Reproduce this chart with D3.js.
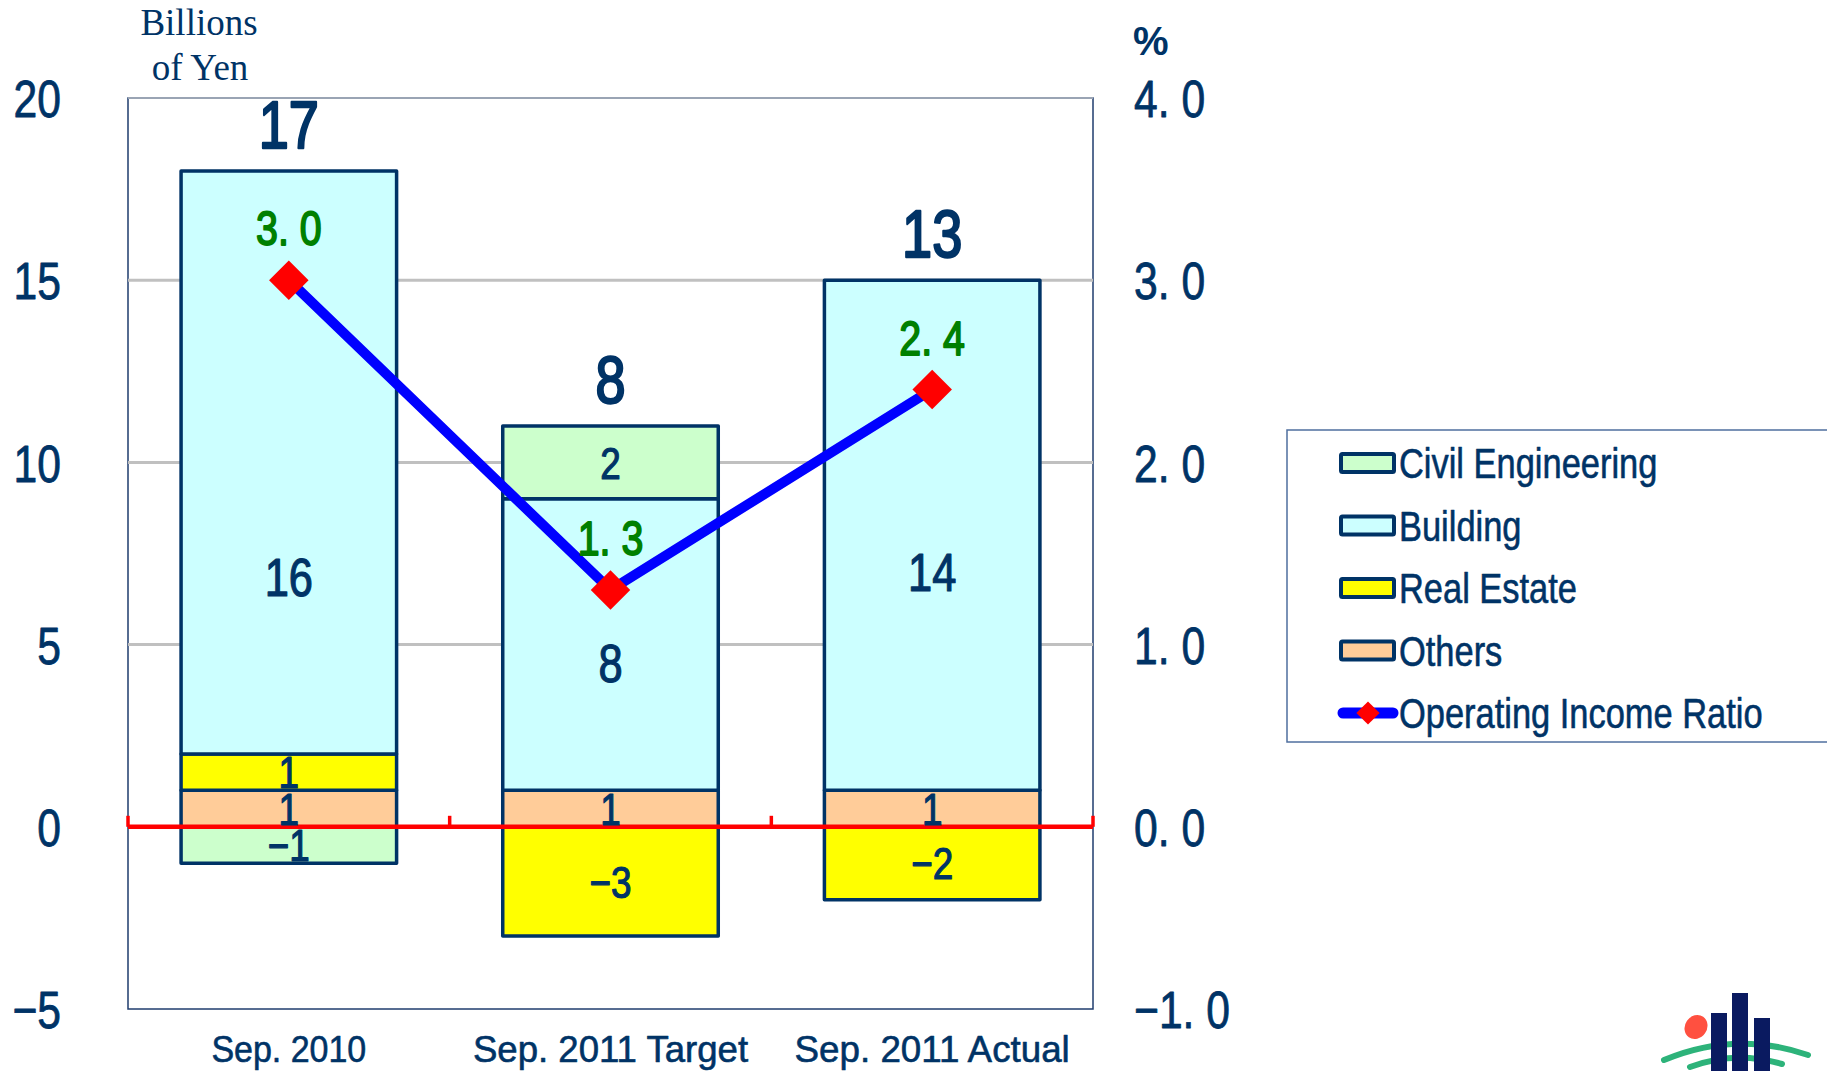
<!DOCTYPE html>
<html>
<head>
<meta charset="utf-8">
<script src="https://cdn.jsdelivr.net/npm/d3@7"></script>
<style>
  html, body { margin: 0; padding: 0; background: #ffffff; }
  svg { display: block; }
</style>
</head>
<body>
<svg id="chart" width="1827" height="1071"></svg>
<script>
// ---------------- data ----------------
const categories = ["Sep. 2010", "Sep. 2011 Target", "Sep. 2011 Actual"];
const civilEngineering = [-1, 2, 0];
const building = [16, 8, 14];
const realEstate = [1, -3, -2];
const others = [1, 1, 1];
const totals = [17, 8, 13];
const incomeRatio = [3.0, 1.3, 2.4];
const buildingLabelAt = [6.85, 4.5, 7.0];   // value (billions of yen) where the Building label sits
const leftTicks = [-5, 0, 5, 10, 15, 20];
const rightTicks = [-1, 0, 1, 2, 3, 4];
const gridTicks = [5, 10, 15];
const legendNames = ["Civil Engineering", "Building", "Real Estate", "Others", "Operating Income Ratio"];

// ---------------- styles ----------------
const NAVY = "#003366";
const colors = {
  "Civil Engineering": "#CCFFCC",
  "Building": "#CCFFFF",
  "Real Estate": "#FFFF00",
  "Others": "#FFCC99"
};
const SANS = '"Liberation Sans", Arial, sans-serif';
const SQUEEZE = 0.82;   // emulate a narrow gothic face
// horizontal compression about each text's own anchor point
function squeeze(sel, f = SQUEEZE) {
  sel.each(function () {
    const ax = +(this.getAttribute("x") || 0);
    this.setAttribute("transform", `translate(${ax},0) scale(${f},1) translate(${-ax},0)`);
  });
}
function heavy(sel, color, w) {
  sel.attr("stroke", color).attr("stroke-width", w).attr("stroke-linejoin", "round").attr("paint-order", "stroke");
}

const svg = d3.select("#chart");
const plot = { left: 128, right: 1093, top: 98, bottom: 1009 };

const rows = categories.map((c, i) => ({
  cat: c,
  "Others": others[i],
  "Real Estate": realEstate[i],
  "Building": building[i],
  "Civil Engineering": civilEngineering[i]
}));
const stackKeys = ["Others", "Real Estate", "Building", "Civil Engineering"];
const stacked = d3.stack().keys(stackKeys).offset(d3.stackOffsetDiverging)(rows);

const x = d3.scaleBand().domain(categories).range([plot.left, plot.right])
  .paddingInner(0.33).paddingOuter(0.165);
const xCat = d3.scaleBand().domain(categories).range([plot.left, plot.right]).padding(0);
const cx = c => x(c) + x.bandwidth() / 2;
const yL = d3.scaleLinear().domain([-5, 20]).range([plot.bottom, plot.top]);
const yR = d3.scaleLinear().domain([-1, 4]).range([plot.bottom, plot.top]);

// frame
svg.append("rect")
  .attr("x", plot.left).attr("y", plot.top)
  .attr("width", plot.right - plot.left).attr("height", plot.bottom - plot.top)
  .attr("fill", "none").attr("stroke", "#1f3d6e").attr("stroke-width", 1.5);
svg.append("line")
  .attr("x1", plot.left).attr("x2", plot.right)
  .attr("y1", yL(20)).attr("y2", yL(20))
  .attr("stroke", "#9aa4b4").attr("stroke-width", 2);

// gridlines
svg.append("g").selectAll("line").data(gridTicks).join("line")
  .attr("x1", plot.left).attr("x2", plot.right)
  .attr("y1", d => yL(d)).attr("y2", d => yL(d))
  .attr("stroke", "#C0C0C0").attr("stroke-width", 3);

// axes
const fmtL = d3.format("d");
const axL = svg.append("g").attr("transform", `translate(${plot.left},0)`)
  .call(d3.axisLeft(yL).tickValues(leftTicks).tickSize(0).tickPadding(67).tickFormat(fmtL));
axL.select(".domain").remove();
axL.selectAll("text").attr("font-family", SANS).attr("font-size", 52).attr("fill", NAVY)
  .attr("dy", "0.36em").call(heavy, NAVY, 0.8).call(squeeze);

const fmtR = d => d3.format(".1f")(d).replace(".", ". ");
const axR = svg.append("g").attr("transform", `translate(${plot.right},0)`)
  .call(d3.axisRight(yR).tickValues(rightTicks).tickSize(0).tickPadding(41).tickFormat(fmtR));
axR.select(".domain").remove();
axR.selectAll("text").attr("font-family", SANS).attr("font-size", 52).attr("fill", NAVY)
  .attr("dy", "0.36em").style("white-space", "pre").call(heavy, NAVY, 0.8).call(squeeze);

// x labels (emulating a fixed-pitch gothic font)
const axB = svg.append("g").attr("transform", `translate(0,${plot.bottom})`)
  .call(d3.axisBottom(x).tickSize(0).tickPadding(53));
axB.select(".domain").remove();
axB.selectAll("text")
  .attr("font-family", SANS).attr("font-size", 37).attr("fill", NAVY)
  .attr("dy", 0).style("white-space", "pre").call(heavy, NAVY, 0.6)
  .attr("textLength", d => d.length * 17.2).attr("lengthAdjust", "spacingAndGlyphs");

// unit titles
const unit = svg.append("g").attr("font-family", '"Liberation Serif", "Times New Roman", serif')
  .attr("font-size", 37).attr("fill", NAVY).attr("text-anchor", "middle");
unit.append("text").attr("x", 199).attr("y", 35).text("Billions");
unit.append("text").attr("x", 200).attr("y", 80).text("of Yen");
svg.append("text").attr("x", 1133).attr("y", 55).attr("font-family", SANS)
  .attr("font-size", 40).attr("font-weight", "bold").attr("fill", NAVY).text("%");

// bars
svg.append("g").selectAll("g").data(stacked).join("g")
  .attr("fill", s => colors[s.key])
  .selectAll("rect").data(s => s.filter(d => d[1] - d[0] !== 0)).join("rect")
  .attr("x", d => x(d.data.cat)).attr("width", x.bandwidth())
  .attr("y", d => yL(Math.max(d[0], d[1])))
  .attr("height", d => Math.abs(yL(d[0]) - yL(d[1])))
  .attr("stroke", NAVY).attr("stroke-width", 3.5).attr("stroke-linejoin", "round");

// zero line with category ticks
const zero = svg.append("g").attr("stroke", "#FF0000");
zero.append("line").attr("x1", plot.left).attr("x2", plot.right)
  .attr("y1", yL(0)).attr("y2", yL(0)).attr("stroke-width", 4.5);
const bounds = categories.map(c => xCat(c)).concat([xCat(categories[categories.length - 1]) + xCat.bandwidth()]);
zero.selectAll("line.tk").data(bounds).join("line").attr("class", "tk")
  .attr("x1", d => d).attr("x2", d => d)
  .attr("y1", yL(0)).attr("y2", yL(0) - 11).attr("stroke-width", 3.5);

// segment labels
const segLabels = [];
stacked.forEach(s => s.forEach((d, i) => {
  const v = d.data[s.key];
  if (v === 0) return;
  const big = s.key === "Building";
  const at = big ? buildingLabelAt[i] : (d[0] + d[1]) / 2;
  segLabels.push({ cat: d.data.cat, v, at, big });
}));
svg.append("g").attr("font-family", SANS).attr("fill", NAVY)
  .attr("text-anchor", "middle")
  .selectAll("text").data(segLabels).join("text")
  .attr("font-size", d => d.big ? 53 : 45)
  .attr("x", d => cx(d.cat)).attr("y", d => yL(d.at)).attr("dy", "0.36em")
  .text(d => d3.format("d")(d.v))
  .call(heavy, NAVY, 1.2)
  .call(squeeze);

// totals
svg.append("g").attr("font-family", SANS).attr("font-size", 66).attr("fill", NAVY)
  .attr("text-anchor", "middle")
  .selectAll("text").data(categories).join("text")
  .attr("x", c => cx(c))
  .attr("y", (c, i) => yL(d3.max(stacked, s => s[i][1])) - 23)
  .text((c, i) => totals[i])
  .call(heavy, NAVY, 2.4)
  .call(squeeze, 0.82);

// operating income ratio line
const line = d3.line().x((d, i) => cx(categories[i])).y(d => yR(d));
svg.append("path").datum(incomeRatio).attr("d", line)
  .attr("fill", "none").attr("stroke", "#0000FF").attr("stroke-width", 10)
  .attr("stroke-linecap", "round").attr("stroke-linejoin", "round");
const diamond = d3.symbol().type(d3.symbolSquare).size(780);
svg.append("g").selectAll("path").data(incomeRatio).join("path")
  .attr("d", diamond)
  .attr("transform", (d, i) => `translate(${cx(categories[i])},${yR(d)}) rotate(45)`)
  .attr("fill", "#FF0000");
svg.append("g").attr("font-family", SANS).attr("font-size", 48).attr("fill", "#008000")
  .attr("text-anchor", "middle").style("white-space", "pre")
  .selectAll("text").data(incomeRatio).join("text")
  .attr("x", (d, i) => cx(categories[i])).attr("y", d => yR(d) - 35)
  .text(d => fmtR(d))
  .call(heavy, "#008000", 1.8)
  .call(squeeze, 0.82);

// legend
const lg = svg.append("g");
lg.append("rect").attr("x", 1287).attr("y", 430).attr("width", 545).attr("height", 312)
  .attr("fill", "#ffffff").attr("stroke", "#4f6f9f").attr("stroke-width", 1.5);
const legY = d3.scalePoint().domain(legendNames).range([463, 713]);
const items = lg.selectAll("g.item").data(legendNames).join("g").attr("class", "item")
  .attr("transform", d => `translate(0,${legY(d)})`);
items.filter(d => colors[d]).append("rect")
  .attr("x", 1341).attr("y", -9).attr("width", 53).attr("height", 18)
  .attr("fill", d => colors[d]).attr("stroke", NAVY).attr("stroke-width", 4).attr("rx", 1.5);
const lineItem = items.filter(d => !colors[d]);
lineItem.append("line").attr("x1", 1343).attr("x2", 1393).attr("y1", 0).attr("y2", 0)
  .attr("stroke", "#0000FF").attr("stroke-width", 11).attr("stroke-linecap", "round");
lineItem.append("path").attr("d", d3.symbol().type(d3.symbolSquare).size(270))
  .attr("transform", "translate(1368,0) rotate(45)").attr("fill", "#FF0000");
items.append("text").attr("x", 1399).attr("y", 0).attr("dy", "0.36em")
  .attr("font-family", SANS).attr("font-size", 42).attr("fill", NAVY)
  .text(d => d)
  .call(heavy, NAVY, 0.6)
  .call(squeeze);

// corporate mark (decoration)
const logo = svg.append("g");
logo.append("ellipse").attr("cx", 1696).attr("cy", 1027).attr("rx", 11).attr("ry", 12.5)
  .attr("transform", "rotate(35,1696,1027)").attr("fill", "#FF5040");
logo.append("path").attr("d", "M1664,1060 Q1735,1030 1808,1055")
  .attr("fill", "none").attr("stroke", "#2DB37A").attr("stroke-width", 6).attr("stroke-linecap", "round");
logo.append("path").attr("d", "M1690,1067 Q1735,1050 1782,1064")
  .attr("fill", "none").attr("stroke", "#2DB37A").attr("stroke-width", 6).attr("stroke-linecap", "round");
logo.append("rect").attr("x", 1711).attr("y", 1013).attr("width", 16).attr("height", 60).attr("fill", "#0A1A60");
logo.append("rect").attr("x", 1732).attr("y", 993).attr("width", 16).attr("height", 80).attr("fill", "#0A1A60");
logo.append("rect").attr("x", 1754).attr("y", 1018).attr("width", 16).attr("height", 55).attr("fill", "#0A1A60");
</script>
</body>
</html>
